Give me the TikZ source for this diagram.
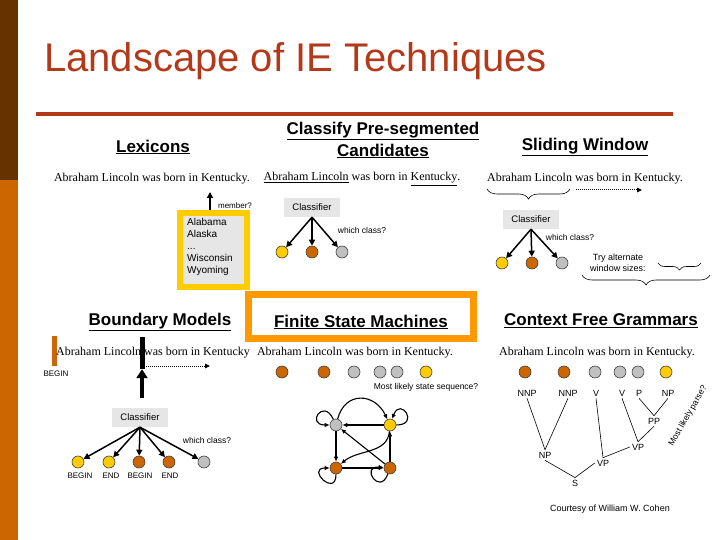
\documentclass[tikz,border=0pt]{standalone}
\usepackage{fontspec}
\setmainfont{Liberation Serif}
\setsansfont{Liberation Sans}
\usepackage{tikz}
\usetikzlibrary{arrows.meta,positioning,decorations.pathreplacing}
\definecolor{slideBrown}{RGB}{102,51,0}
\definecolor{slideOrange}{RGB}{204,102,0}
\definecolor{titleRust}{RGB}{178,58,26}
\definecolor{stateGold}{RGB}{255,204,0}
\definecolor{stateBrown}{RGB}{204,102,0}
\definecolor{stateGray}{RGB}{192,192,192}
\definecolor{boxGray}{RGB}{230,230,230}
\definecolor{fsmOrange}{RGB}{255,153,0}

\begin{document}
\begin{tikzpicture}[
  x=1pt,y=1pt,
  every node/.style={font=\sffamily\fontsize{8.5}{10}\selectfont,inner sep=1pt},
  heading/.style={font=\sffamily\bfseries\fontsize{17}{20}\selectfont,align=center},
  sentence/.style={font=\rmfamily\fontsize{12}{14}\selectfont},
  clsbox/.style={fill=boxGray,minimum width=56pt,minimum height=19pt,font=\sffamily\fontsize{9.5}{11}\selectfont},
  dot/.style={circle,draw=black!75,line width=0.6pt,minimum size=12pt,inner sep=0pt},
  dotY/.style={dot,fill=stateGold},
  dotB/.style={dot,fill=stateBrown},
  dotS/.style={dot,fill=stateGray},
  arr/.style={-{Triangle[length=6pt,width=6pt]},line width=1.5pt},
  farr/.style={-{Latex[length=5pt,width=4.5pt]},line width=1.1pt},
  dotarr/.style={-{Triangle[length=5pt,width=4.5pt]},densely dotted,line width=1pt},
  wbrace/.style={decorate,decoration={brace,mirror,amplitude=#1},line width=0.6pt},
  tag/.style={font=\sffamily\fontsize{8}{9}\selectfont},
  cat/.style={font=\sffamily\fontsize{9}{10}\selectfont,inner sep=2pt},
  treeline/.style={line width=0.6pt}
]
  \useasboundingbox (0,0) rectangle (720,-540);

  % slide frame
  \fill[slideBrown] (0,0) rectangle (18,-180);
  \fill[slideOrange] (0,-180) rectangle (18,-540);
  \node[anchor=base west,inner sep=0pt,text=titleRust,font=\sffamily\fontsize{40}{44}\selectfont]
    (title) at (44,-72) {Landscape of IE Techniques};
  \draw[titleRust,line width=3.5pt] (36,-114) -- (673,-114);

  % Lexicons
  \node[heading] (lexHead) at (153,-147) {\underline{Lexicons}};
  \node[sentence] (lexSent) at (152,-179) {Abraham Lincoln was born in Kentucky.};
  \node[draw=stateGold,fill=boxGray,line width=6pt,minimum width=67pt,minimum height=74pt] (lexBox) at (213.5,-250) {};
  \node[anchor=north west,align=left,inner sep=0pt,font=\sffamily\fontsize{10}{12}\selectfont]
    (lexList) at (187,-218) {Alabama\\Alaska\\...\\Wisconsin\\Wyoming};
  \coordinate (lexTip) at (210,-192);
  \draw[arr] (lexBox.north -| lexTip) -- (lexTip);
  \node[tag] (lexAsk) at (235,-206) {member?};

  % Classify pre-segmented candidates
  \node[heading] (clsHead) at (383,-140) {\underline{Classify Pre-segmented}\\[2pt]\underline{Candidates}};
  \node[sentence] (clsSent) at (362,-179) {\underline{Abraham Lincoln} was born in \underline{Kentucky}.};
  \node[clsbox] (clsBox) at (312,-207.5) {Classifier};
  \node[dotY] (clsA) at (282,-252) {};
  \node[dotB] (clsB) at (312,-252) {};
  \node[dotS] (clsC) at (342,-252) {};
  \draw[arr] (clsBox.south) -- (clsA);
  \draw[arr] (clsBox.south) -- (clsB);
  \draw[arr] (clsBox.south) -- (clsC);
  \node (clsAsk) at (362,-230) {which class?};

  % Sliding window
  \node[heading] (swHead) at (585,-147) {\underline{Sliding Window}};
  \node[sentence] (swSent) at (585,-179) {Abraham Lincoln was born in Kentucky.};
  \draw[wbrace=10pt] (487,-189) -- (570,-189);
  \coordinate (swFrom) at (576,-190);
  \coordinate (swTo) at (642,-190);
  \draw[dotarr] (swFrom) -- (swTo);
  \node[clsbox] (swBox) at (531,-219.5) {Classifier};
  \node[dotY] (swA) at (502,-263) {};
  \node[dotB] (swB) at (532,-263) {};
  \node[dotS] (swC) at (562,-263) {};
  \draw[arr] (swBox.south) -- (swA);
  \draw[arr] (swBox.south) -- (swB);
  \draw[arr] (swBox.south) -- (swC);
  \node (swAsk) at (570,-237) {which class?};
  \node[align=center,font=\sffamily\fontsize{9}{11}\selectfont] (swTry) at (618,-263) {Try alternate\\window sizes:};
  \draw[wbrace=7pt] (658,-263) -- (701,-263);
  \draw[wbrace=10pt] (582,-275) -- (710,-275);

  % Finite state machines
  \node[draw=fsmOrange,line width=7pt,minimum width=225pt,minimum height=44pt] (fsmBox) at (361,-316.5) {};
  \node[heading] (fsmHead) at (361,-322) {\underline{Finite State Machines}};
  \node[sentence] (fsmSent) at (355,-353) {Abraham Lincoln was born in Kentucky.};
  \node[dotB] (fsmSeqA) at (282,-372) {};
  \node[dotB] (fsmSeqB) at (324,-372) {};
  \node[dotS] (fsmSeqC) at (354,-372) {};
  \node[dotS] (fsmSeqD) at (380,-372) {};
  \node[dotS] (fsmSeqE) at (397,-372) {};
  \node[dotY] (fsmSeqF) at (426,-372) {};
  \node (fsmAsk) at (426,-387) {Most likely state sequence?};
  \node[dotS] (fsmS) at (336,-425) {};
  \node[dotY] (fsmY) at (390,-425) {};
  \node[dotB] (fsmL) at (336,-468) {};
  \node[dotB] (fsmR) at (390,-468) {};
  \draw[farr] (fsmY) -- (fsmS);
  \draw[farr] (fsmS) -- (fsmL);
  \draw[farr] (fsmL) -- (fsmR);
  \draw[farr] (fsmR) -- (fsmY);
  \draw[farr] (fsmR) -- (fsmS);
  \draw[farr] (fsmY) to[out=-95,in=40] (fsmL);
  \draw[farr] (fsmS) to[out=75,in=115,looseness=1.5] (fsmY);
  \draw[farr] (fsmS) to[out=115,in=180,min distance=24pt] (fsmS);
  \draw[farr] (fsmY) to[out=0,in=70,min distance=24pt] (fsmY);
  \draw[farr] (fsmL) to[out=-90,in=180,min distance=24pt] (fsmL);
  \draw[farr] (fsmR) to[out=-110,in=175,min distance=24pt] (fsmR);

  % Boundary models
  \node[heading] (bmHead) at (160,-322) {\underline{Boundary Models}};
  \node[fill=slideOrange,minimum width=5pt,minimum height=30pt,inner sep=0pt] (bmBegin) at (54.5,-351) {};
  \node[tag] (bmBeginTag) at (56,-374) {BEGIN};
  \node[sentence,anchor=west,inner sep=0pt] (bmSent) at (56,-353) {Abraham Lincoln was born in Kentucky};
  \node[fill=black,minimum width=5pt,minimum height=32pt,inner sep=0pt] (bmBound) at (142,-353) {};
  \coordinate (bmTail) at (142,-398);
  \draw[-{Triangle[length=9pt,width=11pt]},line width=4pt] (bmTail) -- (bmBound.south);
  \coordinate (bmFrom) at (146,-366);
  \coordinate (bmTo) at (210,-366);
  \draw[dotarr] (bmFrom) -- (bmTo);
  \node[clsbox] (bmBox) at (140,-417.5) {Classifier};
  \node[dotY] (bmA) at (78,-462) {};
  \node[dotY] (bmB) at (109,-462) {};
  \node[dotB] (bmC) at (139,-462) {};
  \node[dotB] (bmD) at (169,-462) {};
  \node[dotS] (bmE) at (204,-462) {};
  \draw[arr] (bmBox.south) -- (bmA);
  \draw[arr] (bmBox.south) -- (bmB);
  \draw[arr] (bmBox.south) -- (bmC);
  \draw[arr] (bmBox.south) -- (bmD);
  \draw[arr] (bmBox.south) -- (bmE);
  \node (bmAsk) at (207,-440) {which class?};
  \node[tag] (bmTagA) at (80,-476) {BEGIN};
  \node[tag] (bmTagB) at (111,-476) {END};
  \node[tag] (bmTagC) at (140,-476) {BEGIN};
  \node[tag] (bmTagD) at (170,-476) {END};

  % Context free grammars
  \node[heading] (cfgHead) at (601,-321) {\underline{Context Free Grammars}};
  \node[sentence] (cfgSent) at (597,-353) {Abraham Lincoln was born in Kentucky.};
  \node[dotB] (cfgA) at (525,-372) {};
  \node[dotB] (cfgB) at (564,-372) {};
  \node[dotS] (cfgC) at (595,-372) {};
  \node[dotS] (cfgD) at (620,-372) {};
  \node[dotS] (cfgE) at (638,-372) {};
  \node[dotY] (cfgF) at (666,-372) {};
  \node[cat] (cfgNNPa) at (527,-393) {NNP};
  \node[cat] (cfgNNPb) at (568,-393) {NNP};
  \node[cat] (cfgVa) at (596,-393) {V};
  \node[cat] (cfgVb) at (622,-393) {V};
  \node[cat] (cfgP) at (639,-393) {P};
  \node[cat] (cfgNPb) at (668,-393) {NP};
  \node[cat] (cfgPP) at (654,-421) {PP};
  \node[cat] (cfgVPb) at (638,-447) {VP};
  \node[cat] (cfgNP) at (545,-455) {NP};
  \node[cat] (cfgVPa) at (603,-463) {VP};
  \node[cat] (cfgS) at (575,-483) {S};
  \draw[treeline] (cfgNNPa.south) -- (cfgNP.north) -- (cfgNNPb.south);
  \draw[treeline] (cfgVa.south) -- (cfgVPa.north) -- (cfgVPb.west);
  \draw[treeline] (cfgVb.south) -- (cfgVPb.north) -- (cfgPP.south);
  \draw[treeline] (cfgP.south) -- (cfgPP.north) -- (cfgNPb.south);
  \draw[treeline] (cfgNP.south) -- (cfgS.north) -- (cfgVPa.west);
  \node[rotate=60] (cfgAsk) at (688,-416) {Most likely parse?};
  \node[font=\sffamily\fontsize{9}{10}\selectfont] (credit) at (610,-509) {Courtesy of William W. Cohen};
\end{tikzpicture}
\end{document}
